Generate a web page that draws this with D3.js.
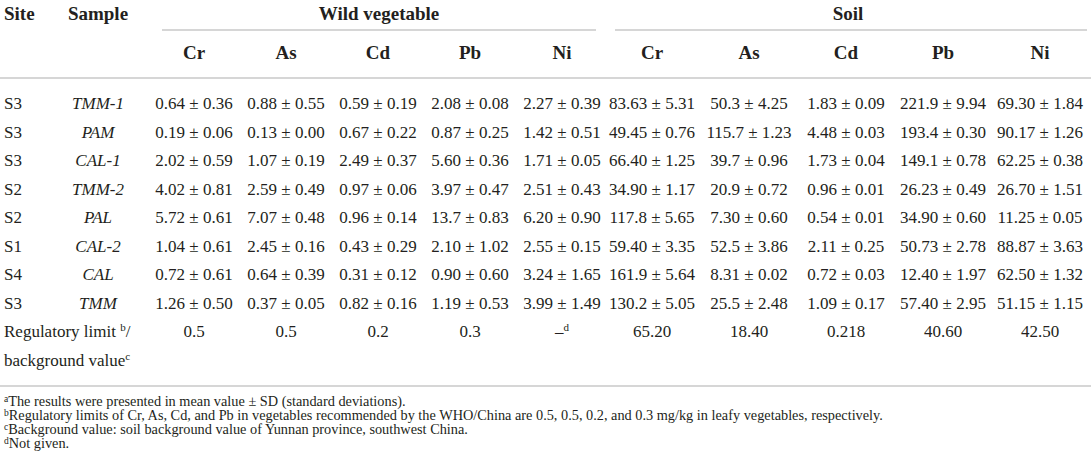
<!DOCTYPE html>
<html>
<head>
<meta charset="utf-8">
<script src="https://cdn.jsdelivr.net/npm/d3@7"></script>
<style>
  body { margin: 0; background: #fff; }
  text { font-family: 'Liberation Serif', 'Times New Roman', serif; fill: #231f20; }
</style>
</head>
<body>
<div id="chart-area"></div>
<script>
// table data
var sites = ['S3', 'S3', 'S3', 'S2', 'S2', 'S1', 'S4', 'S3']
var samples = ['TMM-1', 'PAM', 'CAL-1', 'TMM-2', 'PAL', 'CAL-2', 'CAL', 'TMM']
var elements = ['Cr', 'As', 'Cd', 'Pb', 'Ni']

// wild vegetable, mean and SD per sample (rows) and element (columns)
var vegMean = [
  ['0.64', '0.88', '0.59', '2.08', '2.27'],
  ['0.19', '0.13', '0.67', '0.87', '1.42'],
  ['2.02', '1.07', '2.49', '5.60', '1.71'],
  ['4.02', '2.59', '0.97', '3.97', '2.51'],
  ['5.72', '7.07', '0.96', '13.7', '6.20'],
  ['1.04', '2.45', '0.43', '2.10', '2.55'],
  ['0.72', '0.64', '0.31', '0.90', '3.24'],
  ['1.26', '0.37', '0.82', '1.19', '3.99']
]
var vegSD = [
  ['0.36', '0.55', '0.19', '0.08', '0.39'],
  ['0.06', '0.00', '0.22', '0.25', '0.51'],
  ['0.59', '0.19', '0.37', '0.36', '0.05'],
  ['0.81', '0.49', '0.06', '0.47', '0.43'],
  ['0.61', '0.48', '0.14', '0.83', '0.90'],
  ['0.61', '0.16', '0.29', '1.02', '0.15'],
  ['0.61', '0.39', '0.12', '0.60', '1.65'],
  ['0.50', '0.05', '0.16', '0.53', '1.49']
]

// soil
var soilMean = [
  ['83.63', '50.3', '1.83', '221.9', '69.30'],
  ['49.45', '115.7', '4.48', '193.4', '90.17'],
  ['66.40', '39.7', '1.73', '149.1', '62.25'],
  ['34.90', '20.9', '0.96', '26.23', '26.70'],
  ['117.8', '7.30', '0.54', '34.90', '11.25'],
  ['59.40', '52.5', '2.11', '50.73', '88.87'],
  ['161.9', '8.31', '0.72', '12.40', '62.50'],
  ['130.2', '25.5', '1.09', '57.40', '51.15']
]
var soilSD = [
  ['5.31', '4.25', '0.09', '9.94', '1.84'],
  ['0.76', '1.23', '0.03', '0.30', '1.26'],
  ['1.25', '0.96', '0.04', '0.78', '0.38'],
  ['1.17', '0.72', '0.01', '0.49', '1.51'],
  ['5.65', '0.60', '0.01', '0.60', '0.05'],
  ['3.35', '3.86', '0.25', '2.78', '3.63'],
  ['5.64', '0.02', '0.03', '1.97', '1.32'],
  ['5.05', '2.48', '0.17', '2.95', '1.15']
]

// regulatory limit (vegetable) / background value (soil)
var vegLimit = ['0.5', '0.5', '0.2', '0.3', '\u2013']
var soilLimit = ['65.20', '18.40', '0.218', '40.60', '42.50']

var footnotes = [
  ['a', 'The results were presented in mean value \u00b1 SD (standard deviations).'],
  ['b', 'Regulatory limits of Cr, As, Cd, and Pb in vegetables recommended by the WHO/China are 0.5, 0.5, 0.2, and 0.3 mg/kg in leafy vegetables, respectively.'],
  ['c', 'Background value: soil background value of Yunnan province, southwest China.'],
  ['d', 'Not given.']
]

var width = 1091
var height = 475
var ruleColor = '#d6d6d6'

var svg = d3.select('#chart-area')
  .append('svg')
  .attr('width', width)
  .attr('height', height)

// Scales
var rowY = d3.scalePoint()
  .domain(d3.range(10))
  .range([103, 360])

var vegX = d3.scalePoint()
  .domain(elements)
  .range([194, 562])

var soilX = d3.scalePoint()
  .domain(elements)
  .range([652, 1040])

var siteX = 4
var sampleX = 98

// rules
function rule (x1, x2, y) {
  svg.append('line')
    .attr('x1', x1).attr('x2', x2)
    .attr('y1', y).attr('y2', y)
    .attr('stroke', ruleColor)
    .attr('stroke-width', 2)
}
rule(162, 596, 30)
rule(615, 1087, 30)
rule(0, width, 78)
rule(0, width, 386)

// header row 1
var head = svg.append('g')
  .attr('font-weight', 'bold')
  .attr('font-size', '19px')

head.append('text').attr('x', siteX).attr('y', 13).attr('dy', '0.35em').text('Site')
head.append('text').attr('x', sampleX).attr('y', 13).attr('dy', '0.35em')
  .attr('text-anchor', 'middle').text('Sample')
head.append('text').attr('x', 379).attr('y', 13).attr('dy', '0.35em')
  .attr('text-anchor', 'middle').text('Wild vegetable')
head.append('text').attr('x', 848).attr('y', 13).attr('dy', '0.35em')
  .attr('text-anchor', 'middle').text('Soil')

// header row 2
head.selectAll('.veg-head')
  .data(elements)
  .enter().append('text')
  .attr('class', 'veg-head')
  .attr('x', function (d) { return vegX(d) })
  .attr('y', 52).attr('dy', '0.35em')
  .attr('text-anchor', 'middle')
  .text(function (d) { return d })

head.selectAll('.soil-head')
  .data(elements)
  .enter().append('text')
  .attr('class', 'soil-head')
  .attr('x', function (d) { return soilX(d) })
  .attr('y', 52).attr('dy', '0.35em')
  .attr('text-anchor', 'middle')
  .text(function (d) { return d })

// body
var body = svg.append('g').attr('font-size', '17px')

body.selectAll('.site')
  .data(sites)
  .enter().append('text')
  .attr('class', 'site')
  .attr('x', siteX)
  .attr('y', function (d, i) { return rowY(i) })
  .attr('dy', '0.35em')
  .text(function (d) { return d })

body.selectAll('.sample')
  .data(samples)
  .enter().append('text')
  .attr('class', 'sample')
  .attr('x', sampleX)
  .attr('y', function (d, i) { return rowY(i) })
  .attr('dy', '0.35em')
  .attr('text-anchor', 'middle')
  .attr('font-style', 'italic')
  .text(function (d) { return d })

function cells (means, sds, xScale, cls) {
  var flat = []
  means.forEach(function (row, i) {
    row.forEach(function (m, j) {
      flat.push({ row: i, el: elements[j], text: m + ' \u00b1 ' + sds[i][j] })
    })
  })
  body.selectAll('.' + cls)
    .data(flat)
    .enter().append('text')
    .attr('class', cls)
    .attr('x', function (d) { return xScale(d.el) })
    .attr('y', function (d) { return rowY(d.row) })
    .attr('dy', '0.35em')
    .attr('text-anchor', 'middle')
    .text(function (d) { return d.text })
}
cells(vegMean, vegSD, vegX, 'veg')
cells(soilMean, soilSD, soilX, 'soil')

// regulatory / background row
var regLabel = body.append('text').attr('x', siteX).attr('y', rowY(8)).attr('dy', '0.35em')
regLabel.append('tspan').text('Regulatory limit ')
regLabel.append('tspan').attr('font-size', '11px').attr('dy', '-6').text('b')
regLabel.append('tspan').attr('dy', '6').text('/')

var bgLabel = body.append('text').attr('x', siteX).attr('y', rowY(9)).attr('dy', '0.35em')
bgLabel.append('tspan').text('background value')
bgLabel.append('tspan').attr('font-size', '11px').attr('dy', '-6').text('c')

body.selectAll('.veg-limit')
  .data(vegLimit)
  .enter().append('text')
  .attr('class', 'veg-limit')
  .attr('x', function (d, i) { return vegX(elements[i]) })
  .attr('y', rowY(8))
  .attr('dy', '0.35em')
  .attr('text-anchor', 'middle')
  .each(function (d, i) {
    var t = d3.select(this)
    t.append('tspan').text(d)
    if (i === 4) t.append('tspan').attr('font-size', '11px').attr('dy', '-6').text('d')
  })

body.selectAll('.soil-limit')
  .data(soilLimit)
  .enter().append('text')
  .attr('class', 'soil-limit')
  .attr('x', function (d, i) { return soilX(elements[i]) })
  .attr('y', rowY(8))
  .attr('dy', '0.35em')
  .attr('text-anchor', 'middle')
  .text(function (d) { return d })

// footnotes
var notes = svg.append('g').attr('font-size', '14.3px')
notes.selectAll('.note')
  .data(footnotes)
  .enter().append('text')
  .attr('class', 'note')
  .attr('x', 4)
  .attr('y', function (d, i) { return 406 + i * 14 })
  .attr('dy', '0.35em')
  .each(function (d) {
    var t = d3.select(this)
    t.append('tspan').attr('font-size', '9.5px').attr('dy', '-4').text(d[0])
    t.append('tspan').attr('dy', '4').text(d[1])
  })
</script>
</body>
</html>
